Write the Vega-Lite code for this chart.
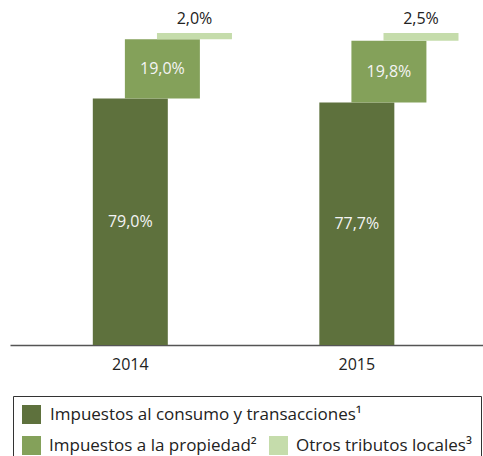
{
  "$schema": "https://vega.github.io/schema/vega-lite/v6.json",
  "width": 473,
  "height": 312,
  "autosize": {"type": "none"},
  "padding": {"left": 10, "top": 33, "right": 0, "bottom": 111},
  "config": {
    "view": {"stroke": null},
    "font": "Open Sans",
    "locale": {"number": {"decimal": ",", "thousands": ".", "grouping": [3], "currency": ["", " €"]}}
  },
  "data": {
    "values": [
      {"year": "2014", "type": "Impuestos al consumo y transacciones¹", "share": 0.790},
      {"year": "2014", "type": "Impuestos a la propiedad²", "share": 0.190},
      {"year": "2014", "type": "Otros tributos locales³", "share": 0.020},
      {"year": "2015", "type": "Impuestos al consumo y transacciones¹", "share": 0.777},
      {"year": "2015", "type": "Impuestos a la propiedad²", "share": 0.198},
      {"year": "2015", "type": "Otros tributos locales³", "share": 0.025}
    ]
  },
  "transform": [
    {"stack": "share", "groupby": ["year"], "sort": [{"field": "share", "order": "descending"}], "as": ["v0", "v1"]},
    {"calculate": "(datum.v0 + datum.v1) / 2", "as": "mid"}
  ],
  "encoding": {
    "x": {
      "field": "year", "type": "nominal",
      "scale": {"paddingInner": 0.292, "paddingOuter": 0.19, "align": 0.466},
      "axis": {"title": null, "labelAngle": 0, "ticks": false, "domainColor": "#555", "domainWidth": 1.5, "labelFontSize": 16, "labelColor": "#222", "labelPadding": 11, "labelFont": "Open Sans"}
    },
    "xOffset": {
      "field": "type", "type": "nominal",
      "scale": {"domain": ["Impuestos al consumo y transacciones¹", "Impuestos a la propiedad²", "Otros tributos locales³"], "paddingInner": 0, "paddingOuter": 1, "align": 1}
    },
    "y": {"field": "v1", "type": "quantitative", "scale": {"domain": [0, 1], "nice": false}, "axis": null}
  },
  "layer": [
    {
      "transform": [{"filter": "datum.type == 'Impuestos al consumo y transacciones¹'"}],
      "mark": {"type": "bar", "width": 75},
      "encoding": {
        "y2": {"field": "v0"},
        "fill": {
          "field": "type", "type": "nominal",
          "scale": {"domain": ["Impuestos al consumo y transacciones¹"], "range": ["#5e713d"]},
          "legend": {
            "title": null, "orient": "none", "legendX": 3, "legendY": 363,
            "symbolType": "square", "symbolSize": 361, "symbolStrokeWidth": 0,
            "labelFontSize": 17, "labelFont": "Open Sans", "labelColor": "#222",
            "labelLimit": 600, "labelOffset": 9, "padding": 9
          }
        }
      }
    },
    {
      "transform": [{"filter": "datum.type != 'Impuestos al consumo y transacciones¹'"}],
      "mark": {"type": "bar", "width": 75},
      "encoding": {
        "y2": {"field": "v0"},
        "color": {
          "field": "type", "type": "nominal",
          "scale": {"domain": ["Impuestos a la propiedad²", "Otros tributos locales³"], "range": ["#84a15a", "#c5dcab"]},
          "legend": {
            "title": " ", "titleFontSize": 17, "titlePadding": 14,
            "orient": "none", "legendX": 3, "legendY": 363,
            "direction": "horizontal", "columns": 2,
            "symbolType": "square", "symbolSize": 361, "symbolStrokeWidth": 0,
            "labelFontSize": 17, "labelFont": "Open Sans", "labelColor": "#222",
            "labelLimit": 600, "labelOffset": 8, "columnPadding": 12,
            "strokeColor": "#333", "padding": 9
          }
        }
      }
    },
    {
      "transform": [{"filter": "datum.type != 'Otros tributos locales³'"}],
      "mark": {"type": "text", "fontSize": 16, "color": "#f4f4f4", "baseline": "middle"},
      "encoding": {
        "y": {"field": "mid", "type": "quantitative"},
        "text": {"field": "share", "type": "quantitative", "format": ".1%"}
      }
    },
    {
      "transform": [{"filter": "datum.type == 'Otros tributos locales³'"}],
      "mark": {"type": "text", "fontSize": 16, "color": "#222", "baseline": "bottom", "dy": -6},
      "encoding": {
        "text": {"field": "share", "type": "quantitative", "format": ".1%"}
      }
    }
  ]
}
